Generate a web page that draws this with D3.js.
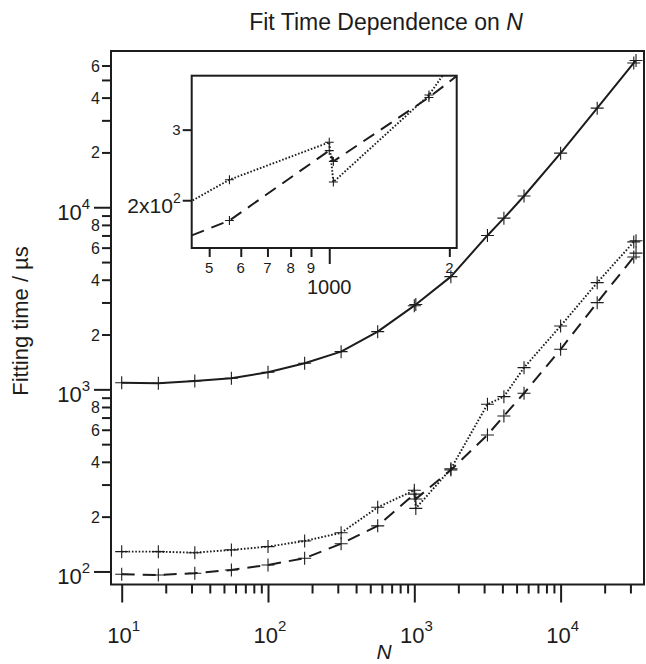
<!DOCTYPE html>
<html>
<head>
<meta charset="utf-8">
<script src="https://cdn.jsdelivr.net/npm/d3@7"></script>
<style>
  body { margin: 0; background: #fff; }
  svg { font-family: "Liberation Sans", Arial, Helvetica, sans-serif; }
</style>
</head>
<body>
<div id="chart"></div>
<script>
// Values (N, fitting time in microseconds)
var nValues     = [10, 17.8, 31.6, 56.2, 100, 178, 316, 562, 1000, 1024, 1778, 3162, 4096, 5623, 10000, 17783, 31623, 32768];
var solidTimes  = [1088, 1080, 1112, 1151, 1241, 1390, 1611, 2074, 2880, 2925, 4158, 7000, 8710, 11530, 19820, 35000, 62000, 64000];
var dottedTimes = [128.5, 128.5, 126.8, 131.3, 136.9, 147.1, 163, 225, 279, 222, 366, 828, 912, 1316, 2229, 3855, 6450, 6550];
var dashedTimes = [96.5, 95.7, 97.8, 101.9, 108.6, 118.2, 142, 178, 266, 250, 361, 562, 714, 952, 1660, 2993, 5330, 5600];

// Tick values and labels
var xMajorTicks = [10, 100, 1000, 10000];
var xMajorExp   = ["1", "2", "3", "4"];
var yMajorTicks = [100, 1000, 10000];
var yMajorExp   = ["2", "3", "4"];
var yLabelTicks = [200, 400, 600, 800, 2000, 4000, 6000, 8000, 20000, 40000, 60000];
var insetXTicks  = [500, 600, 700, 800, 900, 1000, 2000];
var insetXLabels = ["5", "6", "7", "8", "9", "1000", "2"];
var insetYTicks  = [200, 300];

var width = 646, height = 664;
var margin = {top: 51, right: 2, bottom: 79.5, left: 111};
var plotW = width - margin.left - margin.right,
    plotH = height - margin.top - margin.bottom;

var ink = "#1c1c1c";

var svg = d3.select("#chart").append("svg")
  .attr("width", width)
  .attr("height", height);

// Title
var title = svg.append("text")
  .attr("x", 386)
  .attr("y", 30)
  .attr("text-anchor", "middle")
  .style("font-size", "23px")
  .attr("fill", ink);
title.append("tspan").text("Fit Time Dependence on ");
title.append("tspan").style("font-style", "italic").text("N");

var g = svg.append("g")
  .attr("transform", "translate(" + margin.left + "," + margin.top + ")");

// Scales
var x = d3.scaleLog().domain([8.45, 37150]).range([0, plotW]);
var y = d3.scaleLog().domain([84.8, 72100]).range([plotH, 0]);

// Minor ticks (2..9 in each decade)
function minorTicks(lo, hi) {
  var out = [];
  for (var d = 10; d <= 100000; d *= 10) {
    for (var k = 2; k <= 9; k++) {
      var v = k * d / 10;
      if (v >= lo && v <= hi) out.push(v);
    }
  }
  return out;
}

// Axes (tick marks only, labels drawn separately)
var xMinor = minorTicks(10, 37000).filter(function(d) { return xMajorTicks.indexOf(d) < 0; });
var yMinor = minorTicks(100, 69000).filter(function(d) { return yMajorTicks.indexOf(d) < 0; });

g.append("g")
  .attr("class", "axis x-minor")
  .attr("transform", "translate(0," + plotH + ")")
  .call(d3.axisBottom(x).tickValues(xMinor).tickSize(9).tickFormat(""));
g.append("g")
  .attr("class", "axis x-major")
  .attr("transform", "translate(0," + plotH + ")")
  .call(d3.axisBottom(x).tickValues(xMajorTicks).tickSize(18).tickFormat(""));
g.append("g")
  .attr("class", "axis y-minor")
  .call(d3.axisLeft(y).tickValues(yMinor).tickSize(9).tickFormat(""));
g.append("g")
  .attr("class", "axis y-major")
  .call(d3.axisLeft(y).tickValues(yMajorTicks).tickSize(17).tickFormat(""));

g.selectAll(".axis .domain").remove();
g.selectAll(".axis line").attr("stroke", ink).attr("stroke-width", 2);

// X labels
xMajorTicks.forEach(function(t, i) {
  var lab = g.append("text")
    .attr("x", x(t) + 2)
    .attr("y", plotH + 58.5)
    .attr("text-anchor", "middle")
    .attr("fill", ink)
    .style("font-size", "22px");
  lab.append("tspan").text("10");
  lab.append("tspan").attr("dy", -12).style("font-size", "15px").text(xMajorExp[i]);
});

// Y labels
yMajorTicks.forEach(function(t, i) {
  var lab = g.append("text")
    .attr("x", -21)
    .attr("y", y(t) + 13)
    .attr("text-anchor", "end")
    .attr("fill", ink)
    .style("font-size", "22px");
  lab.append("tspan").text("10");
  lab.append("tspan").attr("dy", -11).style("font-size", "15px").text(yMajorExp[i]);
});

g.selectAll(".ylab")
  .data(yLabelTicks)
  .enter().append("text")
  .attr("class", "ylab")
  .attr("x", -11)
  .attr("y", function(d) { return y(d) + 6; })
  .attr("text-anchor", "end")
  .attr("fill", ink)
  .style("font-size", "16px")
  .text(function(d) { return String(d).charAt(0); });

// Axis titles
svg.append("text")
  .attr("text-anchor", "middle")
  .attr("transform", "translate(28,321)rotate(-90)")
  .attr("fill", ink)
  .style("font-size", "22px")
  .text("Fitting time / \u00b5s");

svg.append("text")
  .attr("x", 384)
  .attr("y", 659)
  .attr("text-anchor", "middle")
  .attr("fill", ink)
  .style("font-size", "21px")
  .style("font-style", "italic")
  .text("N");

// Series
function makeSeries(times) {
  return nValues.map(function(n, i) { return {n: n, t: times[i]}; });
}
var series = [
  {name: "solid",  data: makeSeries(solidTimes),  dash: null,      width: 2},
  {name: "dotted", data: makeSeries(dottedTimes), dash: "1.6,1.8", width: 1.9},
  {name: "dashed", data: makeSeries(dashedTimes), dash: "13,8",    width: 2}
];

g.append("clipPath").attr("id", "main-clip")
  .append("rect").attr("width", plotW).attr("height", plotH);

function drawSeries(parent, xs, ys, s, markSize, clipId) {
  var line = d3.line()
    .x(function(d) { return xs(d.n); })
    .y(function(d) { return ys(d.t); });
  var sg = parent.append("g").attr("clip-path", "url(#" + clipId + ")");
  sg.append("path")
    .attr("d", line(s.data))
    .attr("fill", "none")
    .attr("stroke", ink)
    .attr("stroke-width", s.width)
    .attr("stroke-linejoin", "round")
    .attr("stroke-dasharray", s.dash);
  sg.selectAll(".mark")
    .data(s.data)
    .enter().append("path")
    .attr("class", "mark")
    .attr("transform", function(d) { return "translate(" + xs(d.n) + "," + ys(d.t) + ")"; })
    .attr("d", "M" + (-markSize) + ",0H" + markSize + "M0," + (-markSize) + "V" + markSize)
    .attr("stroke", ink)
    .attr("stroke-width", 1.1)
    .attr("fill", "none");
}

series.forEach(function(s) { drawSeries(g, x, y, s, 6.5, "main-clip"); });

// Main frame
g.append("rect")
  .attr("width", plotW)
  .attr("height", plotH)
  .attr("fill", "none")
  .attr("stroke", ink)
  .attr("stroke-width", 2);

// ---- Inset ----
var inset = {left: 191.7, top: 75.7, right: 456.7, bottom: 248};
var ig = svg.append("g")
  .attr("transform", "translate(" + inset.left + "," + inset.top + ")");
var iw = inset.right - inset.left,
    ih = inset.bottom - inset.top;

var xi = d3.scaleLog().domain([452, 2087]).range([0, iw]);
var yi = d3.scaleLog().domain([152, 409]).range([ih, 0]);

ig.append("rect").attr("width", iw).attr("height", ih).attr("fill", "#fff");
ig.append("clipPath").attr("id", "inset-clip")
  .append("rect").attr("width", iw).attr("height", ih);

series.slice(1).forEach(function(s) { drawSeries(ig, xi, yi, s, 4.5, "inset-clip"); });

ig.append("rect")
  .attr("width", iw)
  .attr("height", ih)
  .attr("fill", "none")
  .attr("stroke", ink)
  .attr("stroke-width", 2);

// inset ticks
ig.append("g")
  .attr("class", "iaxis")
  .attr("transform", "translate(0," + ih + ")")
  .call(d3.axisBottom(xi).tickValues(insetXTicks.filter(function(d) { return d !== 1000; })).tickSize(9).tickFormat(""));
ig.append("g")
  .attr("class", "iaxis")
  .attr("transform", "translate(0," + ih + ")")
  .call(d3.axisBottom(xi).tickValues([1000]).tickSize(16).tickFormat(""));
ig.append("g")
  .attr("class", "iaxis")
  .call(d3.axisLeft(yi).tickValues(insetYTicks).tickSize(9).tickFormat(""));
ig.selectAll(".iaxis .domain").remove();
ig.selectAll(".iaxis line").attr("stroke", ink).attr("stroke-width", 2);

insetXTicks.forEach(function(t, i) {
  var big = insetXLabels[i] === "1000";
  ig.append("text")
    .attr("x", xi(t))
    .attr("y", big ? ih + 46 : ih + 25)
    .attr("text-anchor", "middle")
    .attr("fill", ink)
    .style("font-size", big ? "20px" : "15px")
    .text(insetXLabels[i]);
});

var lab200 = ig.append("text")
  .attr("x", -11)
  .attr("y", yi(200) + 12.5)
  .attr("text-anchor", "end")
  .attr("fill", ink)
  .style("font-size", "21px");
lab200.append("tspan").text("2x10");
lab200.append("tspan").attr("dy", -10).style("font-size", "14px").text("2");

ig.append("text")
  .attr("x", -11)
  .attr("y", yi(300) + 5.5)
  .attr("text-anchor", "end")
  .attr("fill", ink)
  .style("font-size", "15px")
  .text("3");
</script>
</body>
</html>
